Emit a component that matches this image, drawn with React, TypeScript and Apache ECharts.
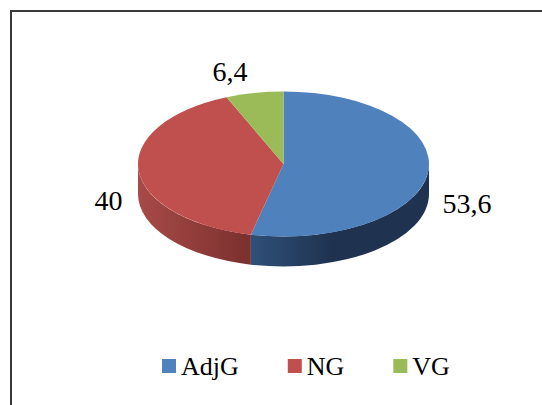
import React, { useEffect, useRef } from "react";
import * as echarts from "echarts";

const categories = ["AdjG", "NG", "VG"];
const values = [53.6, 40, 6.4];
const valueLabels = ["53,6", "40", "6,4"];
const topColors = ["#4f81bd", "#c0504d", "#9bbb59"];
const sideStops = [
  ["#2f5079", "#1f3350"],
  ["#a84a47", "#7a302e"],
  ["#7a9446", "#5f7335"],
];
const labelCentres = [
  [467, 203],
  [108.5, 200.5],
  [230, 71],
];

const CX = 283.5;
const CY = 164;
const RX = 145.5;
const RY = 72.5;
const DEPTH = 30;

const total = values.reduce((a, b) => a + b, 0);

const px = (a: number) => CX + RX * Math.sin(a);
const py = (a: number, dy = 0) => CY - RY * Math.cos(a) + dy;

function arcPath(a0: number, a1: number, dy: number) {
  const large = a1 - a0 > Math.PI ? 1 : 0;
  return `A${RX} ${RY} 0 ${large} 1 ${px(a1)} ${py(a1, dy)}`;
}

function renderSlice(index: number) {
  let before = 0;
  for (let i = 0; i < index; i++) before += values[i];
  const a0 = (before / total) * Math.PI * 2;
  const a1 = ((before + values[index]) / total) * Math.PI * 2;
  const children: any[] = [];

  const s0 = Math.max(a0, Math.PI / 2);
  const s1 = Math.min(a1, (Math.PI * 3) / 2);
  if (s1 > s0) {
    const d =
      `M${px(s0)} ${py(s0)}` +
      arcPath(s0, s1, 0) +
      `L${px(s1)} ${py(s1, DEPTH)}` +
      `A${RX} ${RY} 0 0 0 ${px(s0)} ${py(s0, DEPTH)}Z`;
    const leftToRight = index === 0;
    children.push({
      type: "path",
      shape: { pathData: d },
      style: {
        fill: new echarts.graphic.LinearGradient(
          leftToRight ? 1 : 0,
          0,
          leftToRight ? 0 : 1,
          0,
          leftToRight
            ? [
                { offset: 0, color: sideStops[index][1] },
                { offset: 0.55, color: sideStops[index][1] },
                { offset: 1, color: sideStops[index][0] },
              ]
            : [
                { offset: 0, color: sideStops[index][0] },
                { offset: 1, color: sideStops[index][1] },
              ]
        ),
      },
    });
  }

  const top = `M${CX} ${CY}L${px(a0)} ${py(a0)}` + arcPath(a0, a1, 0) + "Z";
  children.push({
    type: "path",
    shape: { pathData: top },
    style: { fill: topColors[index] },
  });

  children.push({
    type: "text",
    style: {
      text: valueLabels[index],
      x: labelCentres[index][0],
      y: labelCentres[index][1],
      align: "center",
      verticalAlign: "middle",
      fill: "#000000",
      font: "28px 'Liberation Serif'",
    },
  });

  return { type: "group", children };
}

export default function App() {
  const ref = useRef<HTMLDivElement>(null);

  useEffect(() => {
    const chart = echarts.init(ref.current!, undefined, { renderer: "svg" });
    chart.setOption({
      animation: false,
      backgroundColor: "#ffffff",
      legend: {
        data: categories,
        left: 162,
        top: 353,
        padding: 0,
        icon: "rect",
        itemWidth: 14,
        itemHeight: 14,
        itemGap: 49,
        textStyle: {
          fontFamily: "Liberation Serif",
          fontSize: 26,
          color: "#000000",
        },
        selectedMode: false,
      },
      graphic: [
        {
          type: "rect",
          silent: true,
          shape: { x: 11, y: 11, width: 560, height: 420 },
          style: { fill: "none", stroke: "#3a3a3a", lineWidth: 2 },
        },
      ],
      series: categories.map((name, i) => ({
        type: "custom",
        name,
        coordinateSystem: "none",
        itemStyle: { color: topColors[i] },
        data: [values[i]],
        renderItem: () => renderSlice(i),
      })),
    });
    return () => chart.dispose();
  }, []);

  return (
    <div
      ref={ref}
      style={{ position: "fixed", left: 0, top: 0, width: 542, height: 405 }}
    />
  );
}
